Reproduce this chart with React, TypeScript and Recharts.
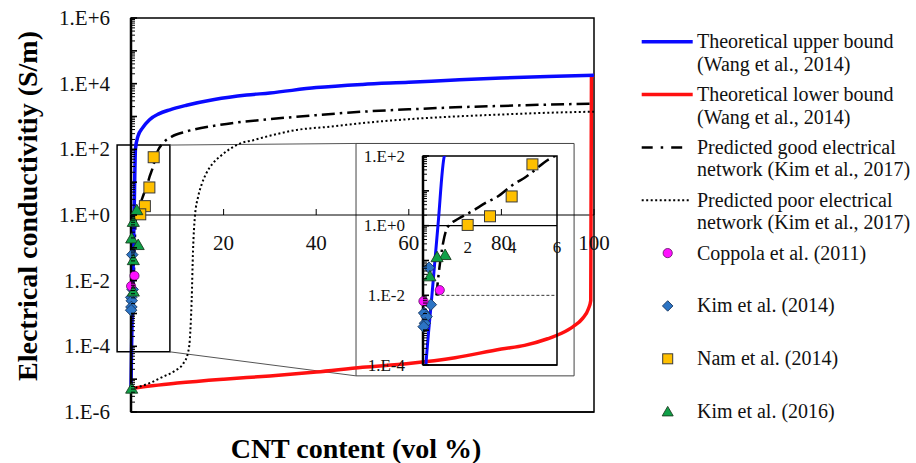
import React from "react";
import {
  ComposedChart,
  Line,
  Scatter,
  XAxis,
  YAxis,
  ReferenceArea,
  ReferenceLine,
  Legend,
} from "recharts";

const SERIF = '"Liberation Serif", "Times New Roman", serif';

// model curves: [CNT vol %, conductivity S/m]
const UPPER_BOUND: [number, number][] = [
  [0, 5.2e-6], [0.13, 1e-4], [0.4, 1e-2], [0.67, 1], [0.96, 1e2], [1.5, 2.5e2],
  [2.5, 4.5e2], [4, 8e2], [6, 1.2e3], [8.4, 1.6e3], [12, 2.2e3], [18, 3.3e3],
  [25, 4.5e3], [30, 5.2e3], [40, 7.6e3], [50, 9.5e3], [60, 1.1e4], [70, 1.3e4],
  [80, 1.5e4], [90, 1.65e4], [100, 1.8e4],
];
const LOWER_BOUND: [number, number][] = [
  [0, 5.2e-6], [10, 7.6e-6], [20, 1e-5], [30, 1.25e-5], [40, 1.65e-5], [50, 2.3e-5],
  [60, 3e-5], [70, 4.5e-5], [80, 8.3e-5], [85, 1.07e-4], [90, 1.7e-4], [93, 2.5e-4],
  [95.5, 4e-4], [97.5, 7e-4], [98.8, 1.4e-3], [99.3, 2.5e-3], [99.45, 1.6e4], [100, 1.8e4],
];
const GOOD_NETWORK: [number, number][] = [
  [0.6, 1e-2], [0.7, 4e-2], [0.9, 3.2e-1], [1.1, 9e-1], [1.6, 1.6], [2.2, 2.6],
  [2.8, 4.5], [3.3, 6.6], [4, 1.45e1], [4.6, 2.5e1], [5.7, 8.5e1], [7, 1.6e2],
  [8.8, 2.45e2], [12, 3.5e2], [19, 5.5e2], [30, 8.3e2], [40, 1.1e3], [50, 1.4e3],
  [60, 1.65e3], [70, 1.9e3], [80, 2.1e3], [90, 2.3e3], [100, 2.45e3],
];
const POOR_NETWORK: [number, number][] = [
  [0, 5.2e-6], [1.2, 5.6e-6], [4, 7.6e-6], [7, 1.2e-5], [9.5, 1.8e-5], [11.3, 3e-5],
  [12.3, 6.3e-5], [12.7, 1.6e-4], [13.1, 2.5e-3], [13.4, 8.5e-2], [13.8, 8.9e-1],
  [14.5, 3.6], [15.3, 8.9], [16.3, 1.9e1], [17.5, 3.5e1], [19.2, 6e1], [21, 9.5e1],
  [23.5, 1.5e2], [26.4, 1.9e2], [30, 2.6e2], [35.8, 3.9e2], [43, 4.9e2], [50, 6.3e2],
  [60, 8.3e2], [70, 1e3], [80, 1.15e3], [90, 1.3e3], [100, 1.4e3],
];

// measured data
const COPPOLA_2011: [number, number][] = [[0.75, 1.41e-2], [0.02, 6.8e-3]];
const KIM_2014: [number, number][] = [
  [0.27, 6.2e-2], [0.35, 5.4e-3], [0.05, 3.1e-3], [0.16, 2.45e-3], [0.09, 1.58e-3], [0.03, 1.26e-3],
];
const NAM_2014: [number, number][] = [[4.9, 57.5], [3.97, 6.9], [3.0, 1.86], [2.0, 1.05]];
const KIM_2016: [number, number][] = [
  [1.25, 1.42], [0.5, 0.625], [0.15, 0.195], [1.55, 0.123], [0.5, 0.0427], [0.5, 4.7e-3], [0.15, 5.2e-6],
];
const KIM_2016_INSET: [number, number][] = [[0.99, 0.145], [0.63, 0.126], [0.31, 0.0355]];

const X_TICKS = [20, 40, 60, 80, 100];
const INSET_X_TICKS = [2, 4, 6];

const LEGEND_LABELS = [
  ["Theoretical upper bound", "(Wang et al., 2014)"],
  ["Theoretical lower bound", "(Wang et al., 2014)"],
  ["Predicted good electrical", "network (Kim et al., 2017)"],
  ["Predicted poor electrical", "network (Kim et al., 2017)"],
  ["Coppola et al. (2011)"],
  ["Kim et al. (2014)"],
  ["Nam et al. (2014)"],
  ["Kim et al. (2016)"],
];

// zoom box / inset frame annotations (data units of the main chart)
const ZOOM_BOX = { x1: -3, x2: 8.4, y1: 6.8e-5, y2: 135 };
const INSET_FRAME = { x1: 48.6, x2: 95.7, y1: 1.26e-5, y2: 151 };

const toPts = (arr: [number, number][]) => arr.map(([x, y]) => ({ x, y }));

const decadeTicks = (lo: number, hi: number) => {
  const out: number[] = [];
  for (let e = lo; e < hi; e++) for (let k = 1; k < 10; k++) out.push(k * 10 ** e);
  out.push(10 ** hi);
  return out;
};

const fmtExp = (e: number) => `1.E${e >= 0 ? "+" : "-"}${Math.abs(e)}`;

const logPos = (top: number, h: number, lo: number, hi: number, v: number) =>
  top + (h * (Math.log10(hi) - Math.log10(v))) / (Math.log10(hi) - Math.log10(lo));

const BLUE = "#0a0aff";
const RED = "#ff1010";
const DASHDOT = "13 5 2.5 5";
const DOTTED = "2 2.5";

// plot geometry
const M_TOP = 18;
const M_H = 394;
const I_TOP = 13;
const I_H = 209;

const Marker = ({ kind, cx, cy, s }: { kind: string; cx: number; cy: number; s: number }) => {
  if (cx == null || cy == null) return null;
  const h = s / 2;
  if (kind === "circle")
    return <circle cx={cx} cy={cy} r={h * 0.92} fill="#ff10ff" stroke="#5a1060" strokeWidth={0.8} />;
  if (kind === "diamond")
    return (
      <polygon
        points={`${cx},${cy - h * 1.05} ${cx + h * 1.05},${cy} ${cx},${cy + h * 1.05} ${cx - h * 1.05},${cy}`}
        fill="#2c74c4"
        stroke="#17365d"
        strokeWidth={0.9}
      />
    );
  if (kind === "square")
    return <rect x={cx - h} y={cy - h} width={s} height={s} fill="#ffc000" stroke="#3a3a3a" strokeWidth={1} />;
  return (
    <polygon
      points={`${cx},${cy - h * 1.05} ${cx + h * 1.1},${cy + h * 0.85} ${cx - h * 1.1},${cy + h * 0.85}`}
      fill="#10a048"
      stroke="#1b3d20"
      strokeWidth={0.9}
    />
  );
};

const shapeOf = (kind: string, s: number) => (p: any) => <Marker kind={kind} cx={p.cx} cy={p.cy} s={s} />;

const makeYTick =
  (gap: number, fontSize: number, labeled: (e: number) => boolean) => (props: any) => {
    const { x, y, payload } = props;
    const v = payload.value as number;
    const e = Math.round(Math.log10(v));
    const major = Math.abs(v / 10 ** e - 1) < 1e-6;
    return (
      <g>
        <line x1={x} x2={x + (major ? 6 : 4)} y1={y} y2={y} stroke="#000" strokeWidth={major ? 1.6 : 1} />
        {major && labeled(e) && (
          <text
            x={x - gap}
            y={y}
            textAnchor="end"
            dominantBaseline="central"
            fontSize={fontSize}
            fontFamily={SERIF}
            fill="#111"
          >
            {fmtExp(e)}
          </text>
        )}
      </g>
    );
  };

const MainXTick = (props: any) => {
  const { x, payload } = props;
  const yOne = logPos(M_TOP, M_H, 1e-6, 1e6, 1);
  return (
    <g>
      <line x1={x} x2={x} y1={yOne - 6} y2={yOne} stroke="#000" strokeWidth={1} />
      <text x={x} y={yOne + 28} textAnchor="middle" dominantBaseline="central" fontSize={21} fontFamily={SERIF} fill="#111">
        {payload.value}
      </text>
    </g>
  );
};

const InsetXTick = (props: any) => {
  const { x, payload } = props;
  const yOne = logPos(I_TOP, I_H, 1e-4, 1e2, 1);
  return (
    <text x={x} y={yOne + 22} textAnchor="middle" dominantBaseline="central" fontSize={17} fontFamily={SERIF} fill="#111">
      {payload.value}
    </text>
  );
};

const LegendBox = () => {
  const L = 626;
  return (
    <svg width={290} height={463} style={{ overflow: "visible", display: "block" }}>
      {LEGEND_LABELS.map((lines, i) => {
        const y = 41.7 + i * 52.85;
        let sw: React.ReactNode;
        if (i === 0) sw = <line x1={641.7 - L} x2={692.7 - L} y1={y} y2={y} stroke={BLUE} strokeWidth={3.5} />;
        else if (i === 1) sw = <line x1={641.7 - L} x2={692.7 - L} y1={y} y2={y} stroke={RED} strokeWidth={3.5} />;
        else if (i === 2)
          sw = <line x1={641.7 - L} x2={683 - L} y1={y} y2={y} stroke="#000" strokeWidth={2.5} strokeDasharray="11 8 2.5 8" />;
        else if (i === 3)
          sw = <line x1={641.7 - L} x2={689 - L} y1={y} y2={y} stroke="#000" strokeWidth={1.8} strokeDasharray={DOTTED} />;
        else sw = <Marker kind={["circle", "diamond", "square", "triangle"][i - 4]} cx={667.7 - L} cy={y} s={10} />;
        return (
          <g key={i}>
            {sw}
            {lines.map((t, j) => (
              <text key={j} x={697 - L} y={y + 6.5 + j * 22.5} fontSize={20} fontFamily={SERIF} fill="#111">
                {t}
              </text>
            ))}
          </g>
        );
      })}
    </svg>
  );
};

const MAIN_Y_TICKS = decadeTicks(-6, 6);
const INSET_Y_TICKS = decadeTicks(-4, 2);

export default function App() {
  const upper = toPts(UPPER_BOUND);
  const lower = toPts(LOWER_BOUND);
  const good = toPts(GOOD_NETWORK);
  const poor = toPts(POOR_NETWORK);

  return (
    <div style={{ position: "absolute", left: 0, top: 0, width: 916, height: 463, background: "#fff" }}>
      <ComposedChart width={916} height={463} margin={{ top: 18, right: 322, bottom: 50, left: 0 }}>
        <XAxis
          type="number"
          dataKey="x"
          domain={[0, 100]}
          ticks={X_TICKS}
          interval={0}
          height={1}
          tickSize={0}
          tickMargin={0}
          tickLine={false}
          axisLine={{ stroke: "#000", strokeWidth: 1.5 }}
          tick={MainXTick}
          label={() => (
            <text x={356} y={448} textAnchor="middle" dominantBaseline="central" fontSize={28} fontWeight="bold" fontFamily={SERIF} fill="#000">
              CNT content (vol %)
            </text>
          )}
        />
        <YAxis
          type="number"
          dataKey="y"
          scale="log"
          domain={[1e-6, 1e6]}
          ticks={MAIN_Y_TICKS}
          interval={0}
          width={131}
          tickSize={0}
          tickMargin={0}
          tickLine={false}
          axisLine={{ stroke: "#000", strokeWidth: 2.5 }}
          tick={makeYTick(21, 21, (e) => e % 2 === 0)}
          label={() => (
            <text
              x={27}
              y={206}
              transform="rotate(-90 27 206)"
              textAnchor="middle"
              dominantBaseline="central"
              fontSize={28}
              fontWeight="bold"
              fontFamily={SERIF}
              fill="#000"
            >
              Electrical conductivitiy (S/m)
            </text>
          )}
        />
        <ReferenceArea x1={0} x2={100} y1={1e-6} y2={1e6} fill="none" stroke="#000" strokeWidth={1.5} ifOverflow="visible" />
        <ReferenceArea {...ZOOM_BOX} fill="none" stroke="#000" strokeWidth={1.5} ifOverflow="visible" />
        <ReferenceArea {...INSET_FRAME} fill="none" stroke="#444" strokeWidth={1} ifOverflow="visible" />
        <ReferenceLine
          segment={[{ x: ZOOM_BOX.x2, y: ZOOM_BOX.y2 }, { x: INSET_FRAME.x1, y: INSET_FRAME.y2 }]}
          stroke="#555"
          strokeWidth={1}
          ifOverflow="visible"
        />
        <ReferenceLine
          segment={[{ x: ZOOM_BOX.x2, y: ZOOM_BOX.y1 }, { x: INSET_FRAME.x1, y: INSET_FRAME.y1 }]}
          stroke="#555"
          strokeWidth={1}
          ifOverflow="visible"
        />
        <ReferenceLine y={1} stroke="#000" strokeWidth={1} ifOverflow="visible" />
        <Line data={lower} dataKey="y" type="monotone" stroke={RED} strokeWidth={3.5} dot={false} activeDot={false} isAnimationActive={false} />
        <Line data={poor} dataKey="y" type="monotone" stroke="#000" strokeWidth={2} strokeDasharray={DOTTED} dot={false} activeDot={false} isAnimationActive={false} />
        <Line data={good} dataKey="y" type="monotone" stroke="#000" strokeWidth={2.5} strokeDasharray={DASHDOT} dot={false} activeDot={false} isAnimationActive={false} />
        <Line data={upper} dataKey="y" type="monotone" stroke={BLUE} strokeWidth={3.5} dot={false} activeDot={false} isAnimationActive={false} />
        <Scatter data={toPts(KIM_2014)} shape={shapeOf("diamond", 11)} isAnimationActive={false} />
        <Scatter data={toPts(COPPOLA_2011)} shape={shapeOf("circle", 10)} isAnimationActive={false} />
        <Scatter data={toPts(NAM_2014)} shape={shapeOf("square", 11)} isAnimationActive={false} />
        <Scatter data={toPts(KIM_2016)} shape={shapeOf("triangle", 11)} isAnimationActive={false} />
        <Legend
          layout="vertical"
          align="center"
          verticalAlign="middle"
          wrapperStyle={{ left: 626, top: 0, width: 290, height: 463 }}
          content={() => <LegendBox />}
        />
      </ComposedChart>

      <div style={{ position: "absolute", left: 356, top: 143 }}>
        <ComposedChart width={218} height={233} margin={{ top: I_TOP, right: 17, bottom: 10, left: 0 }}>
          <XAxis
            xAxisId="clip"
            type="number"
            dataKey="x"
            domain={[0, 6]}
            ticks={INSET_X_TICKS}
            interval={0}
            height={1}
            tickSize={0}
            tickMargin={0}
            tickLine={false}
            axisLine={{ stroke: "#000", strokeWidth: 1.5 }}
            tick={InsetXTick}
            allowDataOverflow
          />
          <XAxis xAxisId="free" type="number" dataKey="x" domain={[0, 6]} hide />
          <YAxis
            yAxisId="clip"
            type="number"
            dataKey="y"
            scale="log"
            domain={[1e-4, 1e2]}
            ticks={INSET_Y_TICKS}
            interval={0}
            width={67}
            tickSize={0}
            tickMargin={0}
            tickLine={false}
            axisLine={{ stroke: "#000", strokeWidth: 2.5 }}
            tick={makeYTick(18, 17, (e) => e % 2 === 0)}
            allowDataOverflow
          />
          <YAxis yAxisId="free" type="number" dataKey="y" scale="log" domain={[1e-4, 1e2]} hide />
          <ReferenceArea xAxisId="clip" yAxisId="clip" x1={0} x2={6} y1={1e-4} y2={1e2} fill="none" stroke="#000" strokeWidth={1.5} />
          <ReferenceLine xAxisId="clip" yAxisId="clip" y={1} stroke="#000" strokeWidth={1.2} />
          <ReferenceLine
            xAxisId="clip"
            yAxisId="clip"
            segment={[{ x: 0.6, y: 0.01 }, { x: 6, y: 0.01 }]}
            stroke="#333"
            strokeWidth={1}
            strokeDasharray="3 2"
          />
          <Line xAxisId="clip" yAxisId="clip" data={lower} dataKey="y" type="monotone" stroke={RED} strokeWidth={3.5} dot={false} activeDot={false} isAnimationActive={false} />
          <Line xAxisId="clip" yAxisId="clip" data={poor} dataKey="y" type="monotone" stroke="#000" strokeWidth={2} strokeDasharray={DOTTED} dot={false} activeDot={false} isAnimationActive={false} />
          <Line xAxisId="clip" yAxisId="clip" data={good} dataKey="y" type="monotone" stroke="#000" strokeWidth={2.5} strokeDasharray={DASHDOT} dot={false} activeDot={false} isAnimationActive={false} />
          <Line xAxisId="clip" yAxisId="clip" data={upper} dataKey="y" type="monotone" stroke={BLUE} strokeWidth={3} dot={false} activeDot={false} isAnimationActive={false} />
          <Scatter xAxisId="free" yAxisId="free" data={toPts(KIM_2014)} shape={shapeOf("diamond", 11)} isAnimationActive={false} />
          <Scatter xAxisId="free" yAxisId="free" data={toPts(COPPOLA_2011)} shape={shapeOf("circle", 10)} isAnimationActive={false} />
          <Scatter xAxisId="free" yAxisId="free" data={toPts(NAM_2014)} shape={shapeOf("square", 11)} isAnimationActive={false} />
          <Scatter xAxisId="free" yAxisId="free" data={toPts(KIM_2016_INSET)} shape={shapeOf("triangle", 11)} isAnimationActive={false} />
        </ComposedChart>
      </div>
    </div>
  );
}
